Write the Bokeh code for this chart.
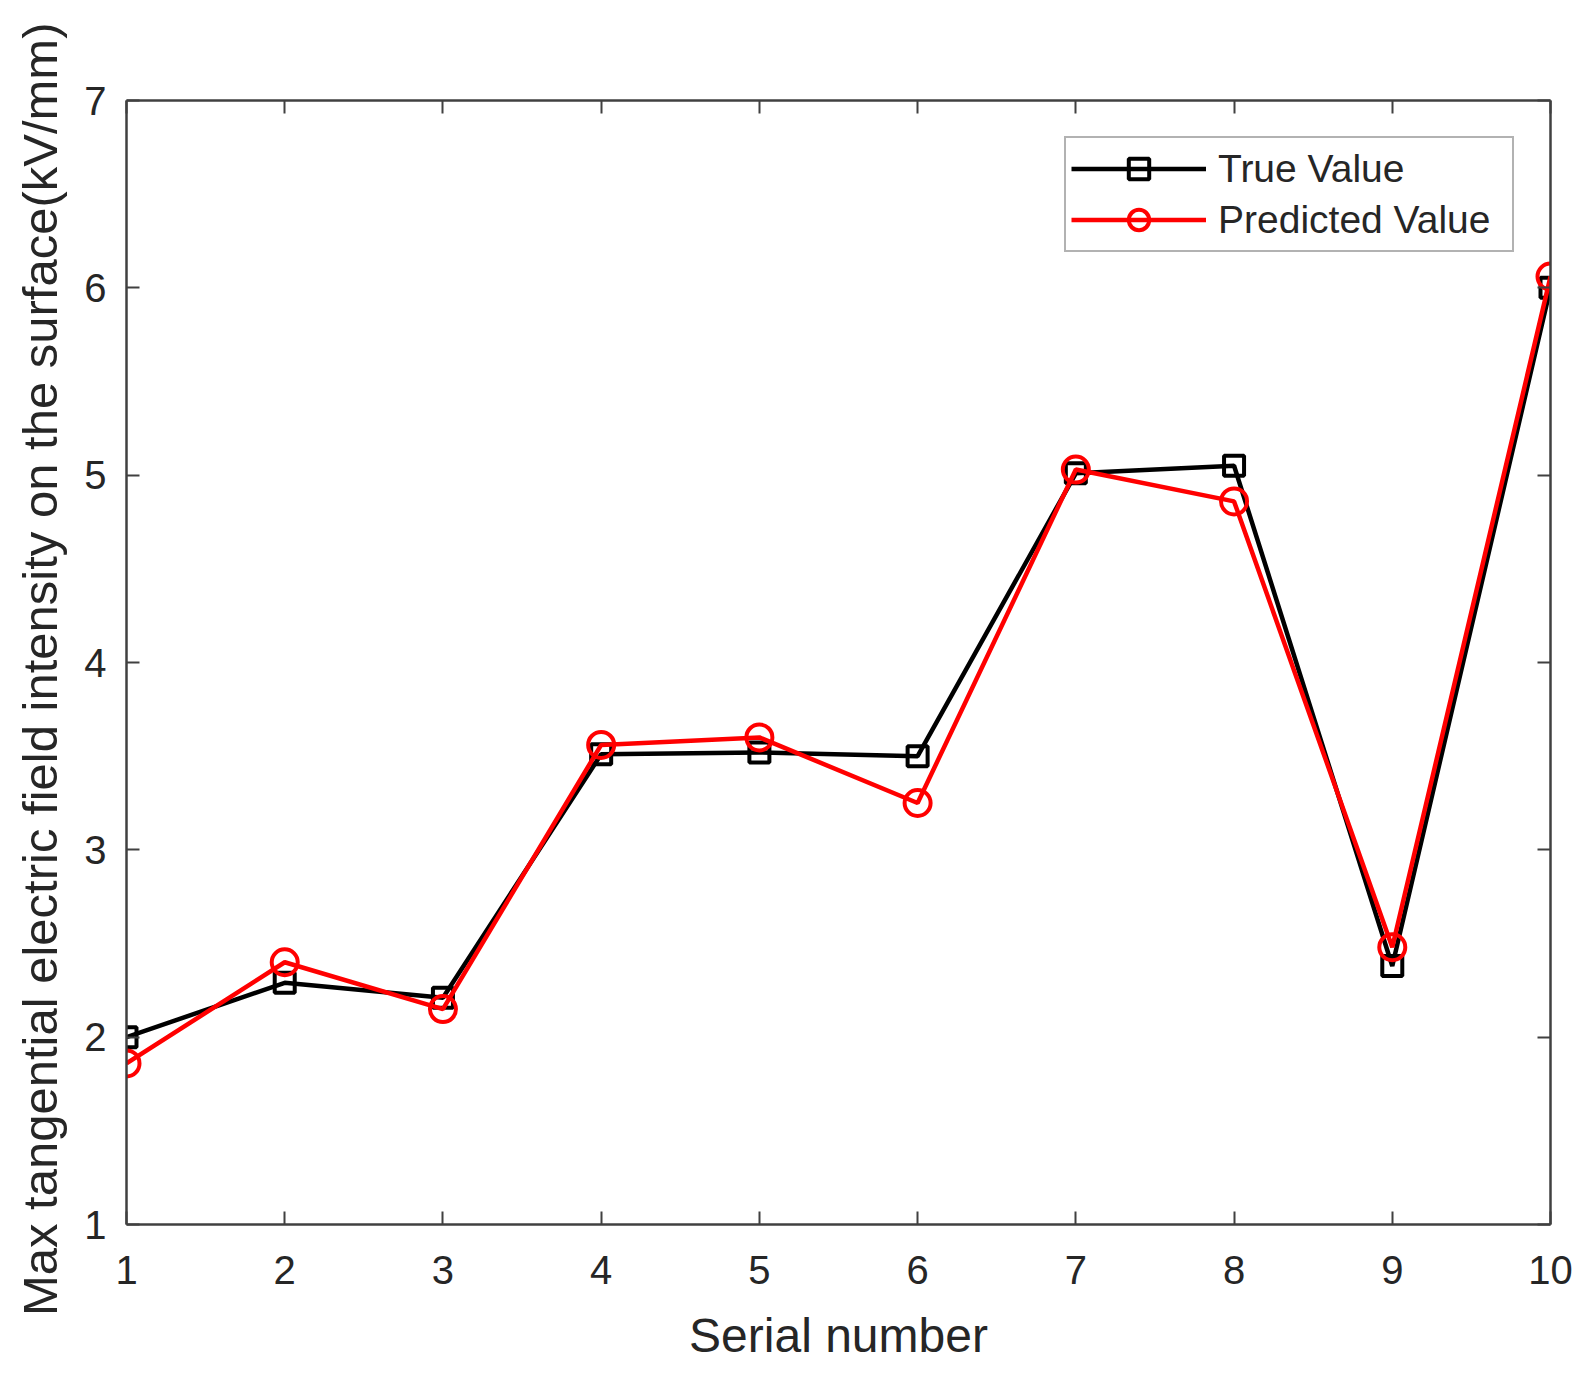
from bokeh.plotting import figure
from bokeh.models import LinearAxis, Legend, LegendItem, FixedTicker, Range1d
from bokeh.embed import file_html
from bokeh.resources import INLINE

serial = [1, 2, 3, 4, 5, 6, 7, 8, 9, 10]
true_value = [2.00, 2.29, 2.21, 3.51, 3.52, 3.50, 5.01, 5.05, 2.38, 6.00]
predicted_value = [1.86, 2.40, 2.15, 3.56, 3.60, 3.25, 5.03, 4.86, 2.48, 6.06]
x_ticks = [1, 2, 3, 4, 5, 6, 7, 8, 9, 10]
y_ticks = [1, 2, 3, 4, 5, 6, 7]

FONT = "Liberation Sans"
AX = "#404040"
TXT = "#262626"

p = figure(frame_width=1424, frame_height=1124,
           x_range=Range1d(1, 10), y_range=Range1d(1, 7),
           output_backend="svg", toolbar_location=None,
           min_border_left=126, min_border_top=100,
           min_border_right=26, min_border_bottom=140)
p.xgrid.visible = False
p.ygrid.visible = False
p.outline_line_color = None
p.background_fill_color = "white"

def style_axis(ax, ticks, labels=True):
    ax.ticker = FixedTicker(ticks=ticks)
    ax.axis_line_color = AX
    ax.axis_line_width = 2.5
    ax.major_tick_line_color = AX
    ax.major_tick_line_width = 2
    ax.major_tick_in = 13
    ax.major_tick_out = 0
    ax.minor_tick_line_color = None
    ax.major_label_text_font = FONT
    ax.major_label_text_color = TXT
    ax.axis_label_text_font = FONT
    ax.axis_label_text_color = TXT
    ax.axis_label_text_font_style = "normal"
    if labels:
        ax.major_label_text_font_size = "40px"
        ax.axis_label_text_font_size = "48px"
    else:
        ax.major_label_text_font_size = "1px"
        ax.major_label_text_color = None

style_axis(p.xaxis[0], x_ticks)
style_axis(p.yaxis[0], y_ticks)
p.xaxis[0].axis_label = "Serial number"
p.yaxis[0].axis_label = "Max tangential  electric field intensity on the surface(kV/mm)"
p.yaxis[0].axis_label_text_font_size = "49px"
p.xaxis[0].major_label_standoff = 31
p.xaxis[0].axis_label_standoff = 22
p.yaxis[0].major_label_standoff = 20
p.yaxis[0].axis_label_standoff = 14

top_ax = LinearAxis()
right_ax = LinearAxis()
style_axis(top_ax, x_ticks, labels=False)
style_axis(right_ax, y_ticks, labels=False)
top_ax.major_label_standoff = 0
right_ax.major_label_standoff = 0
p.add_layout(top_ax, "above")
p.add_layout(right_ax, "right")

l1 = p.line(serial, true_value, line_color="black", line_width=4.5)
s1 = p.scatter(serial, true_value, marker="square", size=20,
               line_color="black", line_width=4, fill_color=None)
l2 = p.line(serial, predicted_value, line_color="#ff0000", line_width=4.5)
s2 = p.scatter(serial, predicted_value, marker="circle", size=26,
               line_color="#ff0000", line_width=4, fill_color=None)

legend = Legend(items=[LegendItem(label="True Value", renderers=[l1, s1]),
                       LegendItem(label="Predicted Value", renderers=[l2, s2])],
                location="top_right", margin=36, padding=5, spacing=0,
                label_height=51, glyph_height=51, glyph_width=135,
                label_width=289, label_standoff=12,
                label_text_font=FONT, label_text_font_size="39px",
                label_text_color=TXT,
                border_line_color="#666666", border_line_width=2,
                background_fill_color="white", background_fill_alpha=1)
p.add_layout(legend, "center")

open("out.html", "w").write(file_html(p, INLINE))
